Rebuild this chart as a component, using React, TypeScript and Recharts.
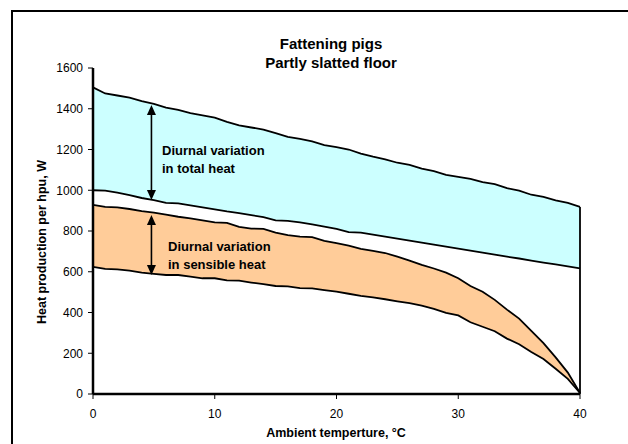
import React from "react";
import {
  Area,
  ComposedChart,
  Line,
  ReferenceLine,
  XAxis,
  YAxis,
} from "recharts";

const temps = [
  0, 1, 2, 3, 4, 5, 6, 7, 8, 9, 10, 11, 12, 13, 14, 15, 16, 17, 18, 19, 20,
  21, 22, 23, 24, 25, 26, 27, 28, 29, 30, 31, 32, 33, 34, 35, 36, 37, 38, 39, 40,
];
const totalHigh = [
  1505, 1475, 1465, 1455, 1438, 1424, 1406, 1394, 1378, 1368, 1356, 1336, 1318,
  1308, 1298, 1280, 1262, 1252, 1240, 1222, 1212, 1200, 1180, 1165, 1152, 1135,
  1124, 1106, 1094, 1076, 1066, 1056, 1040, 1030, 1010, 998, 978, 968, 950, 938, 918,
];
const totalLow = [
  1000, 998, 988, 976, 962, 952, 938, 936, 926, 916, 906, 896, 888, 878, 868,
  852, 850, 842, 832, 822, 810, 794, 792, 782, 772, 763, 753, 743, 733, 723, 714,
  704, 694, 684, 674, 665, 655, 645, 636, 626, 617,
];
const sensHigh = [
  928, 918, 916, 908, 898, 890, 880, 870, 862, 852, 842, 840, 820, 812, 810, 792,
  780, 772, 770, 752, 740, 728, 712, 702, 692, 674, 655, 634, 616, 596, 568, 530,
  502, 462, 414, 370, 310, 250, 180, 105, 5,
];
const sensLow = [
  624, 614, 612, 605, 596, 590, 584, 584, 576, 568, 568, 558, 556, 547, 539, 530,
  528, 520, 518, 510, 502, 492, 482, 474, 465, 455, 446, 434, 418, 398, 386, 352,
  330, 308, 272, 244, 206, 172, 124, 74, 5,
];
const xTicks = [0, 10, 20, 30, 40];
const yTicks = [0, 200, 400, 600, 800, 1000, 1200, 1400, 1600];

// arrow annotations: [x, from, to]
const totalArrow = [4.8, 952, 1418];
const sensArrow = [4.8, 584, 878];

const data = temps.map((t, i) => ({
  t,
  total: [totalLow[i], totalHigh[i]],
  sensible: [sensLow[i], sensHigh[i]],
  totalHigh: totalHigh[i],
  totalLow: totalLow[i],
  sensHigh: sensHigh[i],
  sensLow: sensLow[i],
}));

const font = "'Liberation Sans', Arial, sans-serif";

function Arrow(props: any) {
  const { x1, y1, x2, y2 } = props;
  const top = Math.min(y1, y2);
  const bottom = Math.max(y1, y2);
  const x = x1;
  return (
    <g>
      <line x1={x} y1={top + 6} x2={x2} y2={bottom - 6} stroke="#000" strokeWidth={1.6} />
      <polygon points={`${x},${top} ${x - 4.5},${top + 10} ${x + 4.5},${top + 10}`} fill="#000" />
      <polygon
        points={`${x},${bottom} ${x - 4.5},${bottom - 10} ${x + 4.5},${bottom - 10}`}
        fill="#000"
      />
    </g>
  );
}

const label: React.CSSProperties = {
  position: "absolute",
  fontFamily: font,
  fontWeight: "bold",
  fontSize: 13,
  color: "#000",
  whiteSpace: "nowrap",
  lineHeight: "18px",
};

export default function App() {
  const last = temps.length - 1;
  return (
    <div
      style={{
        position: "absolute",
        left: 0,
        top: 0,
        width: 628,
        height: 444,
        overflow: "hidden",
        background: "#fff",
        fontFamily: font,
      }}
    >
      <div
        style={{
          position: "absolute",
          left: 11,
          top: 10,
          width: 700,
          height: 500,
          border: "2px solid #000",
        }}
      />
      <ComposedChart
        width={628}
        height={444}
        data={data}
        margin={{ top: 68, right: 48, bottom: 20, left: 33 }}
        style={{ position: "absolute", left: 0, top: 0 }}
      >
        <XAxis
          dataKey="t"
          type="number"
          domain={[0, 40]}
          ticks={xTicks}
          height={30}
          tickSize={5}
          tickMargin={10}
          axisLine={{ stroke: "#000", strokeWidth: 2.5 }}
          tickLine={{ stroke: "#000", strokeWidth: 1 }}
          tick={{ fill: "#000", fontSize: 12, fontFamily: font }}
        />
        <YAxis
          type="number"
          domain={[0, 1600]}
          ticks={yTicks}
          width={60}
          tickSize={5}
          tickMargin={5}
          axisLine={{ stroke: "#000", strokeWidth: 2.5 }}
          tickLine={{ stroke: "#000", strokeWidth: 1 }}
          tick={{ fill: "#000", fontSize: 12, fontFamily: font }}
        />
        <Area
          dataKey="total"
          type="linear"
          fill="#CCFFFF"
          fillOpacity={1}
          stroke="none"
          isAnimationActive={false}
        />
        <Area
          dataKey="sensible"
          type="linear"
          fill="#FFCC99"
          fillOpacity={1}
          stroke="none"
          isAnimationActive={false}
        />
        <Line dataKey="totalHigh" type="linear" stroke="#000" strokeWidth={1.8} dot={false} isAnimationActive={false} />
        <Line dataKey="totalLow" type="linear" stroke="#000" strokeWidth={1.8} dot={false} isAnimationActive={false} />
        <Line dataKey="sensHigh" type="linear" stroke="#000" strokeWidth={1.8} dot={false} isAnimationActive={false} />
        <Line dataKey="sensLow" type="linear" stroke="#000" strokeWidth={1.8} dot={false} isAnimationActive={false} />
        <ReferenceLine
          segment={[
            { x: temps[last], y: totalHigh[last] },
            { x: temps[last], y: 0 },
          ]}
          stroke="#000"
          strokeWidth={1.8}
        />
        <ReferenceLine
          segment={[
            { x: totalArrow[0], y: totalArrow[2] },
            { x: totalArrow[0], y: totalArrow[1] },
          ]}
          shape={(p: any) => <Arrow {...p} />}
        />
        <ReferenceLine
          segment={[
            { x: sensArrow[0], y: sensArrow[2] },
            { x: sensArrow[0], y: sensArrow[1] },
          ]}
          shape={(p: any) => <Arrow {...p} />}
        />
      </ComposedChart>
      <div style={{ ...label, fontSize: 15, left: 0, width: 662, top: 34, textAlign: "center", lineHeight: "19px" }}>
        Fattening pigs
        <br />
        Partly slatted floor
      </div>
      <div style={{ ...label, left: 162, top: 142 }}>
        Diurnal variation
        <br />
        in total heat
      </div>
      <div style={{ ...label, left: 168, top: 238 }}>
        Diurnal variation
        <br />
        in sensible heat
      </div>
      <div style={{ ...label, fontSize: 12.5, left: 0, width: 672, top: 424, textAlign: "center" }}>
        Ambient temperture, °C
      </div>
      <div
        style={{
          ...label,
          fontSize: 12.5,
          left: 42,
          top: 242,
          transform: "translate(-50%, -50%) rotate(-90deg)",
        }}
      >
        Heat production per hpu, W
      </div>
    </div>
  );
}
